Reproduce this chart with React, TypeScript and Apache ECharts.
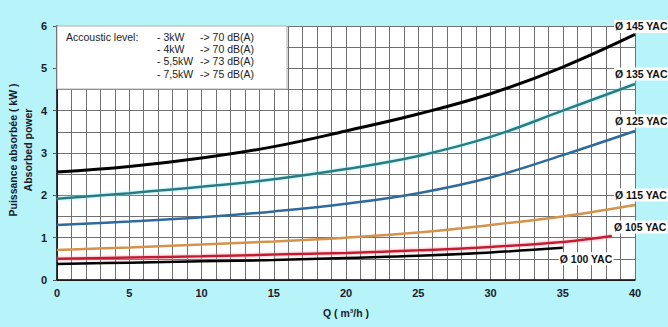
import React, { useEffect, useRef } from "react";
import * as echarts from "echarts";

const xs = [0, 5, 10, 15, 20, 25, 30, 35, 40];
const yac145 = [2.55, 2.68, 2.88, 3.15, 3.52, 3.92, 4.4, 5.03, 5.8];
const yac135 = [1.92, 2.05, 2.2, 2.38, 2.62, 2.93, 3.38, 4.0, 4.63];
const yac125 = [1.3, 1.38, 1.48, 1.62, 1.8, 2.05, 2.42, 2.95, 3.52];
const yac115 = [0.71, 0.77, 0.84, 0.91, 1.0, 1.12, 1.3, 1.5, 1.77];
const xs105 = [0, 5, 10, 15, 20, 25, 30, 35, 38.4];
const yac105 = [0.5, 0.53, 0.56, 0.6, 0.64, 0.7, 0.78, 0.9, 1.04];
const xs100 = [0, 5, 10, 15, 20, 25, 30, 35];
const yac100 = [0.38, 0.41, 0.44, 0.47, 0.52, 0.57, 0.65, 0.76];

const seriesNames = ["Ø 145 YAC", "Ø 135 YAC", "Ø 125 YAC", "Ø 115 YAC", "Ø 105 YAC", "Ø 100 YAC"];
const legendTitle = "Accoustic level:";
const legendPower = ["- 3kW", "- 4kW", "- 5,5kW", "- 7,5kW"];
const legendLevel = ["-> 70 dB(A)", "-> 70 dB(A)", "-> 73 dB(A)", "-> 75 dB(A)"];
const xTitle = "Q ( m³/h )";
const yTitle = "Puissance absorbée ( kW )\nAbsorbed power";

const pair = (x: number[], y: number[]) => x.map((v, i) => [v, y[i]]);

export default function App() {
  const ref = useRef<HTMLDivElement>(null);
  useEffect(() => {
    if (!ref.current) return;
    const chart = echarts.init(ref.current, null, { renderer: "svg" });
    const lbl = (offset: number[]) => ({
      show: true,
      formatter: "{a}",
      offset,
      color: "#111",
      fontFamily: "Liberation Sans, Arial, sans-serif",
      fontWeight: "bold",
      fontSize: 10.5,
      backgroundColor: "#fff",
      padding: [1, 1],
    });
    const mk = (name: string, data: number[][], color: string, width: number, offset: number[], glow?: string) => ({
      type: "line",
      name,
      data,
      smooth: 0.4,
      symbol: "none",
      lineStyle: {
        color,
        width,
        ...(glow ? { shadowColor: glow, shadowBlur: 3 } : {}),
      },
      endLabel: lbl(offset),
      z: 3,
    });
    const axisText = {
      color: "#1a1a2a",
      fontFamily: "Liberation Sans, Arial, sans-serif",
      fontWeight: "bold",
      fontSize: 11,
    };
    const legendFont = {
      fill: "#222",
      fontFamily: "Liberation Sans, Arial, sans-serif",
      fontSize: 10.5,
    };
    const graphics: any[] = [
      {
        type: "rect",
        shape: { x: 57, y: 26, width: 230, height: 63 },
        style: { fill: "#fff", stroke: "#b0b0b0", lineWidth: 1 },
        z: 10,
      },
      {
        type: "text",
        x: 66,
        y: 37,
        style: { ...legendFont, text: legendTitle, verticalAlign: "middle" },
        z: 11,
      },
    ];
    legendPower.forEach((p, i) => {
      graphics.push({
        type: "text",
        x: 157,
        y: 37 + i * 12.2,
        style: { ...legendFont, text: p, verticalAlign: "middle" },
        z: 11,
      });
      graphics.push({
        type: "text",
        x: 200,
        y: 37 + i * 12.2,
        style: { ...legendFont, text: legendLevel[i], verticalAlign: "middle" },
        z: 11,
      });
    });
    graphics.push({
      type: "text",
      x: 20,
      y: 150,
      rotation: Math.PI / 2,
      style: {
        text: yTitle,
        fill: "#1a1a2a",
        fontFamily: "Liberation Sans, Arial, sans-serif",
        fontWeight: "bold",
        fontSize: 10.5,
        lineHeight: 15,
        align: "center",
        verticalAlign: "middle",
      },
    });

    chart.setOption({
      animation: false,
      backgroundColor: "#b6f4fa",
      grid: {
        left: 57,
        right: 33,
        top: 26,
        bottom: 47,
        show: true,
        backgroundColor: "#fff",
        borderWidth: 0,
      },
      xAxis: {
        type: "value",
        min: 0,
        max: 40,
        interval: 5,
        name: xTitle,
        nameLocation: "middle",
        nameGap: 27,
        nameTextStyle: { ...axisText, fontSize: 10.5 },
        axisLine: { show: true, lineStyle: { color: "#000", width: 1.5 } },
        axisTick: { show: false },
        axisLabel: { ...axisText, margin: 7 },
        splitLine: { show: true, lineStyle: { color: "#707070", width: 1 } },
        minorTick: { show: false, splitNumber: 5 },
        minorSplitLine: { show: true, lineStyle: { color: "#707070", width: 1 } },
      },
      yAxis: {
        type: "value",
        min: 0,
        max: 6,
        interval: 1,
        axisLine: { show: true, lineStyle: { color: "#000", width: 1.5 } },
        axisTick: { show: true, inside: false, length: 4, lineStyle: { color: "#555" } },
        axisLabel: { ...axisText, margin: 10 },
        splitLine: { show: true, lineStyle: { color: "#707070", width: 1 } },
        minorTick: { show: false, splitNumber: 2 },
        minorSplitLine: { show: true, lineStyle: { color: "#707070", width: 1 } },
      },
      series: [
        mk(seriesNames[0], pair(xs, yac145), "#000000", 3, [-29, -8]),
        mk(seriesNames[1], pair(xs, yac135), "#2b7a82", 2.5, [-29, -10], "rgba(120,230,240,0.8)"),
        mk(seriesNames[2], pair(xs, yac125), "#2e6b9c", 2.5, [-29, -10]),
        mk(seriesNames[3], pair(xs, yac115), "#d4924c", 2.5, [-29, -10]),
        mk(seriesNames[4], pair(xs105, yac105), "#c21f33", 2.5, [-7, -9], "rgba(255,130,150,0.8)"),
        mk(seriesNames[5], pair(xs100, yac100), "#000000", 2.5, [-12, 11]),
      ],
      graphic: graphics,
    });
    return () => chart.dispose();
  }, []);
  return (
    <div
      ref={ref}
      style={{ position: "absolute", left: 0, top: 0, width: 668, height: 327 }}
    />
  );
}
